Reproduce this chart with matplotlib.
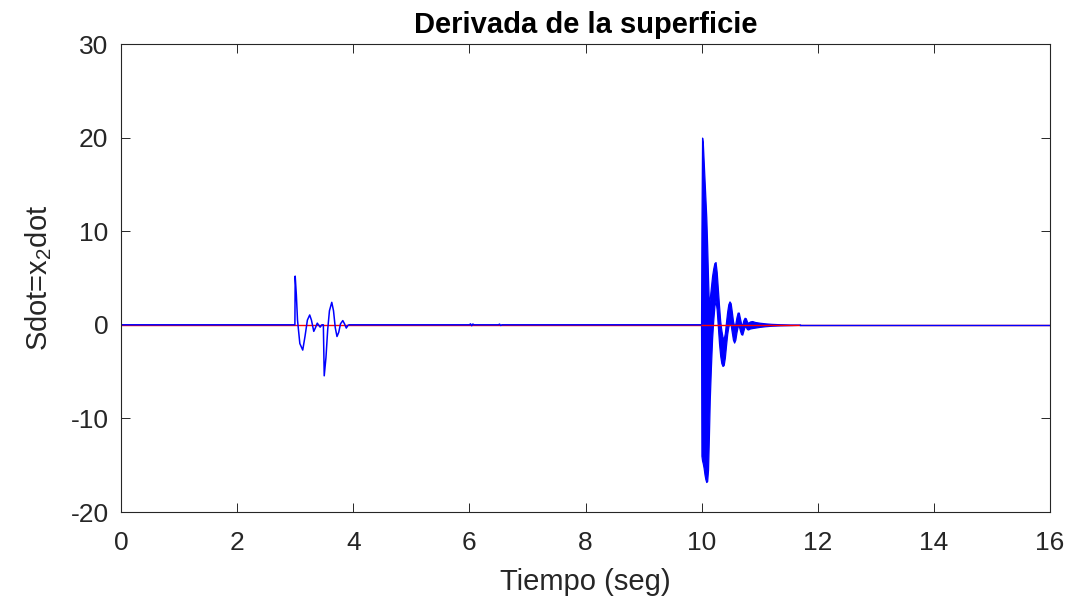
import matplotlib
matplotlib.use('Agg')
import matplotlib.pyplot as plt

# ---------------- data ----------------
# red reference signal (zero)
t_ref = [0.0, 16.0]
s_ref = [0.0, 0.0]

# blue signal before the chattering burst
t_pre = [0.0, 2.995, 3.0, 3.02, 3.04, 3.08, 3.13, 3.17, 3.21, 3.25, 3.28,
         3.32, 3.35, 3.38, 3.43, 3.46, 3.485, 3.50, 3.53, 3.56, 3.59, 3.63,
         3.66, 3.69, 3.72, 3.75, 3.78, 3.82, 3.85, 3.88, 3.91, 3.93,
         6.0, 6.02, 6.04, 6.06, 6.08, 6.5, 6.52, 6.54, 6.56, 9.99]
s_pre = [0.0, 0.0, 5.2, 3.2, 0.5, -2.0, -2.7, -1.2, 0.5, 1.05, 0.5,
         -0.7, -0.3, 0.18, -0.25, 0.0, 0.0, -5.45, -3.5, -0.5, 1.5, 2.4,
         1.5, -0.3, -1.25, -0.8, 0.1, 0.45, 0.1, -0.35, -0.05, 0.0,
         0.0, 0.1, -0.1, 0.08, 0.0, 0.0, 0.07, -0.07, 0.0, 0.0]

# chattering burst after t = 10 s: lower / upper envelope of the band
t_band = [9.99, 9.997, 10.008, 10.02, 10.035, 10.05, 10.065, 10.08,
          10.095, 10.11, 10.125, 10.14, 10.16, 10.18, 10.20, 10.22,
          10.24, 10.26, 10.28, 10.30, 10.32,
          10.34, 10.36, 10.38, 10.40, 10.42, 10.44, 10.46, 10.48, 10.50,
          10.52, 10.54, 10.56, 10.58, 10.60, 10.62, 10.64, 10.66, 10.68,
          10.70, 10.72, 10.74, 10.76, 10.78, 10.80, 10.83, 10.87, 10.92,
          11.00, 11.10, 11.20, 11.35, 11.55, 11.70]
band_lo = [0.0, -14.0, -14.5, -14.8, -15.3, -16.0, -16.5, -16.8,
           -16.7, -15.5, -12.0, -8.0, -4.5, -1.5, 0.5, 2.0,
           2.6, 1.6, -0.2, -2.0, -3.3,
           -4.1, -4.4, -4.3, -3.5, -2.2, -1.0, -0.2, 0.2, 0.0,
           -0.8, -1.6, -1.9, -1.6, -0.8, -0.2, -0.1, -0.6, -1.0,
           -1.05, -0.6, -0.2, -0.2, -0.45, -0.5, -0.4, -0.35, -0.3,
           -0.22, -0.15, -0.1, -0.06, -0.03, 0.0]
band_hi = [0.0, 10.0, 20.0, 19.5, 17.5, 15.5, 13.5, 11.5,
           8.5, 5.0, 2.0, 2.8, 4.0, 5.2, 6.0, 6.6,
           6.7, 5.6, 3.8, 2.0, 0.4,
           -0.6, -1.3, -1.5, -0.9, 0.3, 1.4, 2.2, 2.5, 2.3,
           1.4, 0.4, -0.1, 0.1, 0.8, 1.3, 1.3, 0.7, 0.1,
           0.0, 0.5, 0.75, 0.7, 0.35, 0.2, 0.35, 0.4, 0.3,
           0.22, 0.15, 0.1, 0.06, 0.03, 0.0]

# blue signal after the burst
t_post = [11.70, 16.0]
s_post = [0.0, 0.0]

x_ticks = [0, 2, 4, 6, 8, 10, 12, 14, 16]
y_ticks = [-20, -10, 0, 10, 20, 30]

# ---------------- style ----------------
plt.rcParams['font.family'] = ['Liberation Sans', 'DejaVu Sans']
plt.rcParams['mathtext.fontset'] = 'custom'
plt.rcParams['mathtext.rm'] = 'Liberation Sans'
plt.rcParams['mathtext.it'] = 'Liberation Sans:italic'
plt.rcParams['axes.unicode_minus'] = False

fg = '#262626'
fig = plt.figure(figsize=(10.76, 6.06), dpi=100)
ax = fig.add_axes([121 / 1076, 1 - 512 / 606, (1050 - 121) / 1076, (512 - 44) / 606])

ax.plot(t_ref, s_ref, color='red', lw=1.0)
ax.plot(t_pre, s_pre, color='blue', lw=1.1)
ax.fill_between(t_band, band_lo, band_hi, color='blue', lw=0.9)
ax.plot(t_post, s_post, color='blue', lw=1.0)

ax.set_xlim(x_ticks[0], x_ticks[-1])
ax.set_ylim(y_ticks[0], y_ticks[-1])
ax.set_xticks(x_ticks)
ax.set_yticks(y_ticks)
ax.tick_params(direction='in', length=6.5, width=0.7, colors=fg,
               labelsize=19, top=True, right=True)
ax.tick_params(axis='x', pad=14)
ax.tick_params(axis='y', pad=9)
for s in ax.spines.values():
    s.set_color(fg)
    s.set_linewidth(0.8)

ax.set_title('Derivada de la superficie', fontsize=21, fontweight='bold',
             color='black', pad=8)
ax.set_xlabel('Tiempo (seg)', fontsize=21, color=fg, labelpad=9)
ax.set_ylabel(r'Sdot=x$_{\mathregular{2}}$dot', fontsize=21, color=fg, labelpad=12)

fig.savefig('out.png', dpi=100)
